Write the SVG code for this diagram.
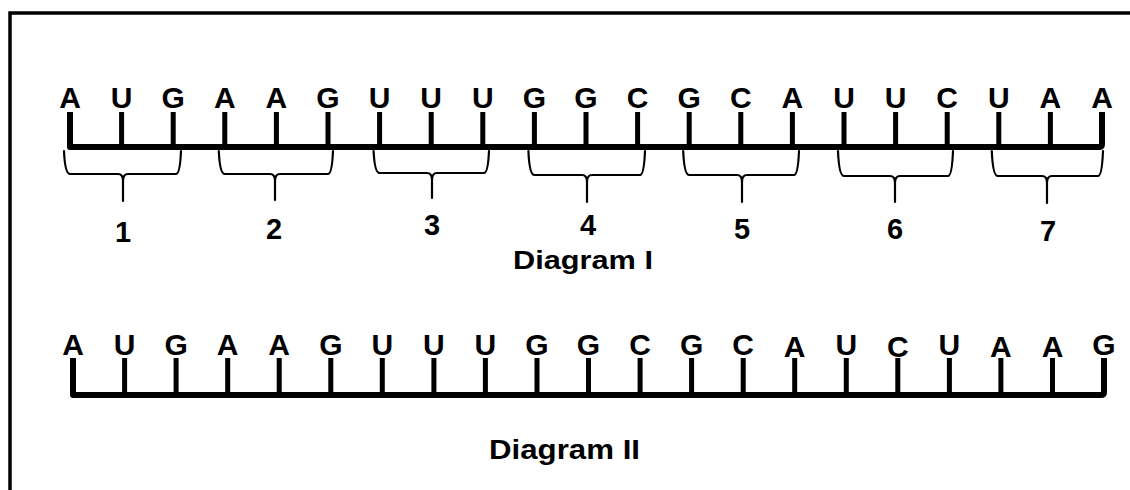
<svg xmlns="http://www.w3.org/2000/svg" width="1130" height="490" viewBox="0 0 1130 490">
<style>
.base{font-family:"Liberation Sans",Arial,Helvetica,sans-serif;font-weight:bold;fill:#000;text-anchor:middle}
.nt{font-size:30px}
.num{font-size:29px}
.lbl{font-size:26px}
.lbl2{font-size:28px}
.tick{stroke:#000;stroke-width:5;fill:none}
.bb{stroke:#000;stroke-width:6;fill:none;stroke-linejoin:round}
.brace{stroke:#000;stroke-width:2.2;fill:none;stroke-linecap:round;stroke-linejoin:round}
.frame{stroke:#000;stroke-width:3.5;fill:none}
</style>
<rect x="0" y="0" width="1130" height="490" fill="#fff"/>
<g id="frame">
<path class="frame" d="M10,490 V13 H1130"/>
</g>

<g id="diagram-I">
<g id="strand-I-backbone">
<path class="bb" d="M70,112 V147 H1099 Q1102,147 1102,144 V112"/>
</g>
<g id="strand-I-ticks">
<path class="tick" d="M121.6,112V147 M173.2,112V147 M224.8,112V147 M276.4,112V147 M328,112V147 M379.6,112V147 M431.2,112V147 M482.8,112V147 M534.4,112V147 M586,112V147 M637.6,112V147 M689.2,112V147 M740.8,112V147 M792.4,112V147 M844,112V147 M895.6,112V147 M947.2,112V147 M998.8,112V147 M1050.4,112V147"/>
</g>
<g id="strand-I-bases" class="base nt">
<text x="70" y="108">A</text>
<text x="121.6" y="108">U</text>
<text x="173.2" y="108">G</text>
<text x="224.8" y="108">A</text>
<text x="276.4" y="108">A</text>
<text x="328" y="108">G</text>
<text x="379.6" y="108">U</text>
<text x="431.2" y="108">U</text>
<text x="482.8" y="108">U</text>
<text x="534.4" y="108">G</text>
<text x="586" y="108">G</text>
<text x="637.6" y="108">C</text>
<text x="689.2" y="108">G</text>
<text x="740.8" y="108">C</text>
<text x="792.4" y="108">A</text>
<text x="844" y="108">U</text>
<text x="895.6" y="108">U</text>
<text x="947.2" y="108">C</text>
<text x="998.8" y="108">U</text>
<text x="1050.4" y="108">A</text>
<text x="1102" y="108">A</text>
</g>
<g id="codon-braces">
<path class="brace" d="M64,151 Q65,174 70,174 H118 Q123,174 123,181 V201 M123,181 Q123,174 128,174 H176 Q180,174 181,151"/>
<path class="brace" d="M218.8,151 Q219.8,174 224.8,174 H270 Q275,174 275,181 V200 M275,181 Q275,174 280,174 H328 Q332,174 333,151"/>
<path class="brace" d="M373.6,151 Q374.6,173 379.6,173 H427 Q432,173 432,180 V198 M432,180 Q432,173 437,173 H484 Q488,173 489,151"/>
<path class="brace" d="M528.4,151 Q529.4,175 534.4,175 H582 Q587,175 587,182 V202 M587,182 Q587,175 592,175 H640 Q644,175 645,151"/>
<path class="brace" d="M683.2,151 Q684.2,175 689.2,175 H737 Q742,175 742,182 V202 M742,182 Q742,175 747,175 H794 Q798,175 799,151"/>
<path class="brace" d="M838,151 Q839,176 844,176 H890 Q895,176 895,183 V202 M895,183 Q895,176 900,176 H948 Q952,176 953,151"/>
<path class="brace" d="M991.8,151 Q992.8,176 997.8,176 H1042 Q1047,176 1047,183 V203 M1047,183 Q1047,176 1052,176 H1098 Q1102,176 1103,151"/>
</g>
<g id="codon-numbers" class="base num">
<text x="123" y="242">1</text>
<text x="274" y="239">2</text>
<text x="432" y="235">3</text>
<text x="588" y="235">4</text>
<text x="742" y="239">5</text>
<text x="895" y="239">6</text>
<text x="1048" y="241">7</text>
</g>
<g id="label-I">
<text class="base lbl" x="583" y="269" textLength="140" lengthAdjust="spacingAndGlyphs">Diagram I</text>
</g>
</g>

<g id="diagram-II">
<g id="strand-II-backbone">
<path class="bb" d="M73,358 V395 H1101 Q1104,395 1104,392 V358"/>
</g>
<g id="strand-II-ticks">
<path class="tick" d="M124.6,358V395 M176.1,358V395 M227.7,358V395 M279.2,358V395 M330.8,358V395 M382.3,358V395 M433.9,358V395 M485.4,358V395 M537,358V395 M588.5,358V395 M640.1,358V395 M691.6,358V395 M743.2,358V395 M794.7,358V395 M846.3,358V395 M897.8,358V395 M949.4,358V395 M1000.9,358V395 M1052.5,358V395"/>
</g>
<g id="strand-II-bases" class="base nt">
<text x="73" y="355">A</text>
<text x="124.6" y="355">U</text>
<text x="176.1" y="355">G</text>
<text x="227.7" y="355">A</text>
<text x="279.2" y="355">A</text>
<text x="330.8" y="355">G</text>
<text x="382.3" y="355">U</text>
<text x="433.9" y="355">U</text>
<text x="485.4" y="355">U</text>
<text x="537" y="355">G</text>
<text x="588.5" y="355">G</text>
<text x="640.1" y="355">C</text>
<text x="691.6" y="355">G</text>
<text x="743.2" y="355">C</text>
<text x="794.7" y="357">A</text>
<text x="846.3" y="355">U</text>
<text x="897.8" y="357">C</text>
<text x="949.4" y="355">U</text>
<text x="1000.9" y="357">A</text>
<text x="1052.5" y="357">A</text>
<text x="1104" y="355">G</text>
</g>
<g id="label-II">
<text class="base lbl2" x="564.5" y="459" textLength="151" lengthAdjust="spacingAndGlyphs">Diagram II</text>
</g>
</g>
</svg>
